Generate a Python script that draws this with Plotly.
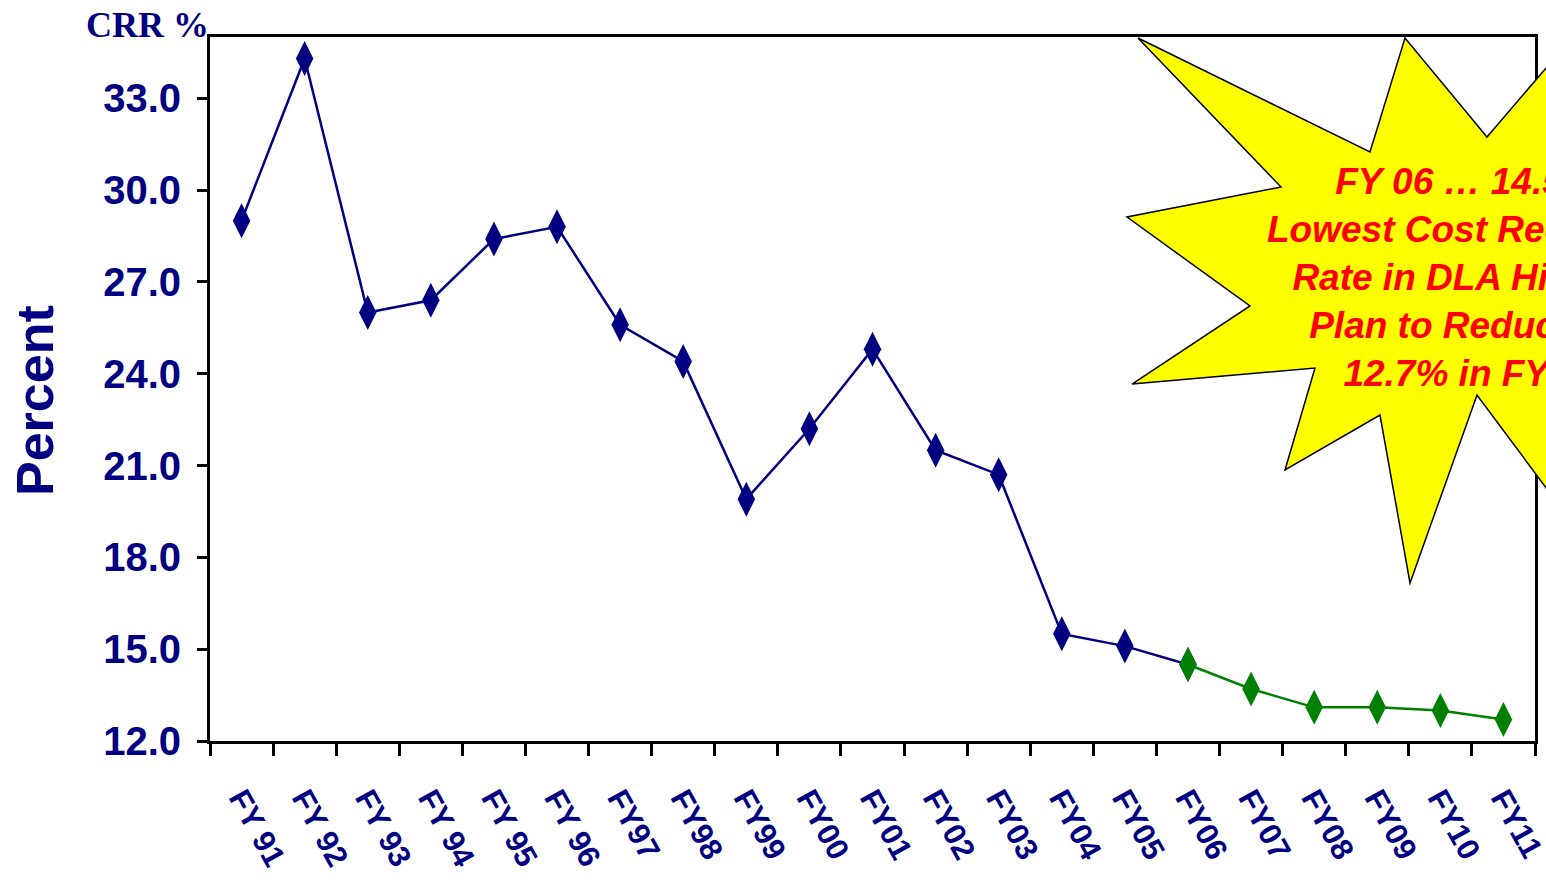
import plotly.graph_objects as go

# ---- data ----
years = ["FY 91", "FY 92", "FY 93", "FY 94", "FY 95", "FY 96", "FY97", "FY98",
         "FY99", "FY00", "FY01", "FY02", "FY03", "FY04", "FY05", "FY06",
         "FY07", "FY08", "FY09", "FY10", "FY11"]
crr = [29.0, 34.3, 26.0, 26.4, 28.4, 28.8, 25.6, 24.4, 19.9, 22.2, 24.8,
       21.5, 20.7, 15.5, 15.1, 14.5, 13.7, 13.1, 13.1, 13.0, 12.7]
actual_end = 15      # index of FY06 (last actual year, first plan year)
y_ticks = [12.0, 15.0, 18.0, 21.0, 24.0, 27.0, 30.0, 33.0]

NAVY = "#000080"
GREEN = "#008000"

W, H = 1546, 885
L, R, T, B = 210, 11, 37, 144
PW, PH = W - L - R, H - T - B


def px(x):
    return (x - L) / PW


def py(y):
    return (H - B - y) / PH


fig = go.Figure()
fig.add_trace(go.Scatter(
    x=years[:actual_end + 1], y=crr[:actual_end + 1], mode="lines+markers",
    line=dict(color=NAVY, width=2.5),
    marker=dict(symbol="diamond-tall", size=25, color=NAVY),
    showlegend=False, cliponaxis=False))
fig.add_trace(go.Scatter(
    x=years[actual_end:], y=crr[actual_end:], mode="lines+markers",
    line=dict(color=GREEN, width=2.5),
    marker=dict(symbol="diamond-tall", size=25, color=GREEN),
    showlegend=False, cliponaxis=False))

# starburst callout (partially off the right edge, as in the source slide)
star_px = [(1138, 38), (1370, 152), (1405, 38), (1487, 137), (1570, 40),
           (1700, 200), (1700, 450), (1570, 520), (1477, 395), (1410, 583),
           (1380, 415), (1285, 470), (1315, 368), (1132, 384), (1250, 306),
           (1127, 217), (1281, 187)]
path = "M " + " L ".join(f"{px(a):.5f},{py(b):.5f}" for a, b in star_px) + " Z"
fig.add_shape(type="path", path=path, xref="paper", yref="paper",
              fillcolor="#FFFF00", line=dict(color="black", width=1.5),
              layer="above")

fig.add_annotation(
    text="FY 06 … 14.5%<br>Lowest Cost Recovery<br>Rate in DLA History<br>Plan to Reduce to<br>12.7% in FY11",
    xref="paper", yref="paper", x=px(1466), y=py(277), showarrow=False,
    xanchor="center", yanchor="middle", align="center",
    font=dict(family="Liberation Sans", size=37, color="#FF0000",
              weight="bold", style="italic"))

fig.add_annotation(text="CRR %", xref="paper", yref="paper",
                   x=px(147), y=py(25), showarrow=False,
                   xanchor="center", yanchor="middle",
                   font=dict(family="Liberation Serif", size=36, color=NAVY,
                             weight="bold"))
fig.add_annotation(text="Percent", xref="paper", yref="paper",
                   x=px(35), y=py(401), showarrow=False, textangle=-90,
                   xanchor="center", yanchor="middle",
                   font=dict(family="Liberation Sans", size=52, color=NAVY,
                             weight="bold"))

fig.update_layout(
    width=W, height=H,
    margin=dict(l=L, r=R, t=T, b=B, autoexpand=False),
    plot_bgcolor="white", paper_bgcolor="white",
    xaxis=dict(type="category", categoryorder="array", categoryarray=years,
               range=[-0.5, len(years) - 0.5], automargin=False,
               tickson="boundaries", ticks="outside", ticklen=12,
               tickwidth=2.5, tickcolor="black", tickangle=61,
               ticklabelstandoff=24,
               showline=True, linecolor="black", linewidth=3, mirror=True,
               showgrid=False, zeroline=False,
               tickfont=dict(family="Liberation Sans", size=31, color=NAVY,
                             weight="bold")),
    yaxis=dict(range=[12, 35], tickvals=y_ticks, tickformat=".1f",
               automargin=False,
               ticks="outside", ticklen=10, tickwidth=2.5, tickcolor="black",
               showline=True, linecolor="black", linewidth=3, mirror=True,
               showgrid=False, zeroline=False, ticklabelstandoff=8,
               tickfont=dict(family="Liberation Sans", size=40, color=NAVY,
                             weight="bold")),
)

fig.write_html("out.html")
